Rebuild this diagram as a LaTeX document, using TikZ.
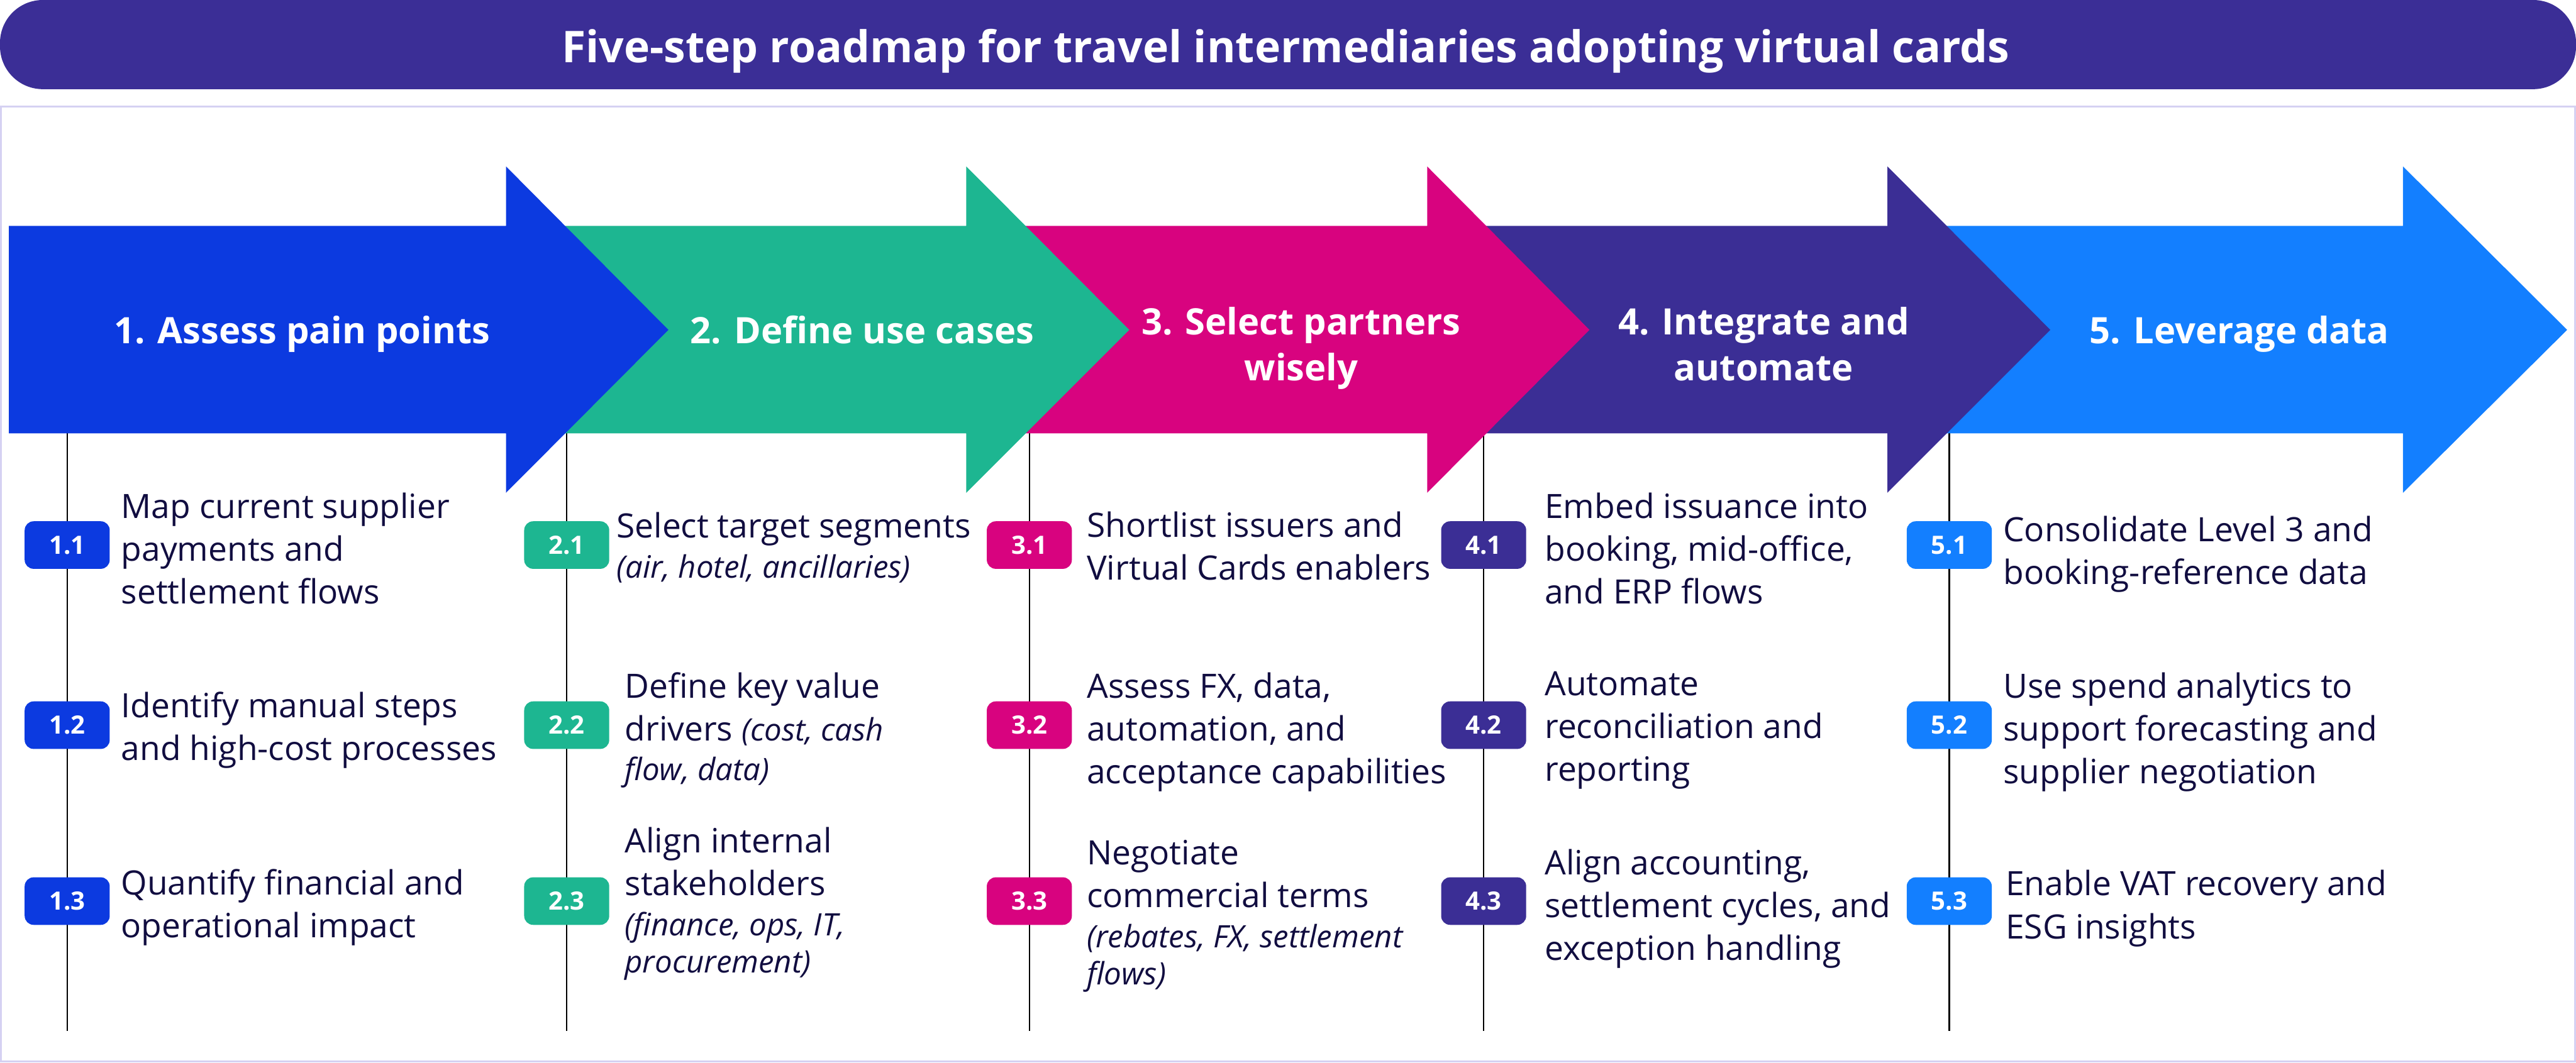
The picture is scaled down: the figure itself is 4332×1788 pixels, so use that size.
\documentclass[tikz,border=0pt]{standalone}
\usepackage{fontspec}
\setmainfont{Open Sans}
\definecolor{titlec}{HTML}{3B2E96}
\definecolor{cA}{HTML}{0C3AE0}
\definecolor{cB}{HTML}{1DB691}
\definecolor{cC}{HTML}{D8037F}
\definecolor{cD}{HTML}{3B2E95}
\definecolor{cE}{HTML}{137FFF}
\definecolor{framec}{HTML}{D5D1F2}
\definecolor{txt}{HTML}{110D40}
\newcommand\itsm{\fontsize{13}{15.75}\selectfont\itshape}
\newcommand\Ln[1]{\baselineskip=18pt\hbox{#1}}
\newcommand\Ia[1]{\baselineskip=16.75pt\hbox{\itsm #1}}
\newcommand\Ib[1]{\baselineskip=15.75pt\hbox{\itsm #1}}
\newcommand\blk[1]{\vtop{\lineskiplimit=-50pt\lineskip=0pt #1}}
\newcommand\twol[2]{\vtop{\baselineskip=19.25pt\lineskiplimit=-50pt\lineskip=0pt\halign{\hfil##\hfil\cr#1\cr#2\cr}}}
\tikzset{
  item/.style={anchor=base west, inner sep=0pt, text=txt, font=\fontsize{14.1}{18}\selectfont},
  badge/.style={rounded corners=3.75pt, minimum width=35.75pt, minimum height=20pt, inner sep=0pt, text=white, font=\fontsize{10.6}{12}\selectfont\bfseries},
  alabel/.style={anchor=base, inner sep=0pt, text=white, font=\fontsize{15.3}{19.25}\selectfont\bfseries},
  vline/.style={line width=0.6pt, draw=black},
}
\begin{document}
\begin{tikzpicture}[x=0.25pt,y=-0.25pt]
\useasboundingbox (0,0) rectangle (4332,1788);
% title bar
\fill[titlec, rounded corners=18pt] (0,0) rectangle (4332,150);
\node[anchor=base, inner sep=0pt, text=white, font=\fontsize{18.4}{22}\selectfont\bfseries] (title) at (2162,105) {Five-step roadmap for travel intermediaries adopting virtual cards};
% frame
\draw[framec, line width=0.8pt] (1.5,179.5) rectangle (4330.5,1785.5);
% vertical lines
\foreach \i/\x in {1/113,2/953,3/1731,4/2495,5/3278}{
  \coordinate (t\i) at (\x,724);
  \coordinate (e\i) at (\x,1734);
  \draw[vline] (t\i) -- (e\i);
}
% arrows (drawn back to front)
\fill[cE] (3174,380) -- (4041,380) -- (4041,280) -- (4317,555) -- (4041,829) -- (4041,729) -- (3174,729) -- cycle;
\fill[cD] (2400,380) -- (3174,380) -- (3174,280) -- (3448,555) -- (3174,829) -- (3174,729) -- (2400,729) -- cycle;
\fill[cC] (1625,380) -- (2400,380) -- (2400,280) -- (2673,555) -- (2400,829) -- (2400,729) -- (1625,729) -- cycle;
\fill[cB] (851,380) -- (1625,380) -- (1625,280) -- (1899,555) -- (1625,829) -- (1625,729) -- (851,729) -- cycle;
\fill[cA] (15,380) -- (851,380) -- (851,280) -- (1124,555) -- (851,829) -- (851,729) -- (15,729) -- cycle;
% arrow labels
\node[alabel] (a1) at (508,578) {1. Assess pain points};
\node[alabel] (a2) at (1450,578) {2. Define use cases};
\node[alabel] (a3) at (2188,563) {\twol{3. Select partners}{wisely}};
\node[alabel] (a4) at (2966,563) {\twol{4. Integrate and}{automate}};
\node[alabel] (a5) at (3766,578) {5. Leverage data};
% badges
\foreach \i/\x/\c in {1/113/cA,2/953/cB,3/1731/cC,4/2495/cD,5/3278/cE}{
  \node[badge, fill=\c] (b\i1) at (\x,917) {\i.1};
  \node[badge, fill=\c] (b\i2) at (\x,1220) {\i.2};
  \node[badge, fill=\c] (b\i3) at (\x,1516) {\i.3};
}
% step 1
\node[item] (s11) at (203,872) {\blk{\Ln{Map current supplier}\Ln{payments and}\Ln{settlement flows}}};
\node[item] (s12) at (203,1207) {\blk{\Ln{Identify manual steps}\Ln{and high-cost processes}}};
\node[item] (s13) at (203,1505) {\blk{\Ln{Quantify financial and}\Ln{operational impact}}};
% step 2
\node[item] (s21) at (1036,905) {\blk{\Ln{Select target segments}\Ia{(air, hotel, ancillaries)}}};
\node[item] (s22) at (1050,1174) {\blk{\Ln{Define key value}\Ln{drivers {\itsm(cost, cash}}\Ia{flow, data)}}};
\node[item] (s23) at (1050,1435) {\blk{\Ln{Align internal}\Ln{stakeholders}\Ia{(finance, ops, IT,}\Ib{procurement)}}};
% step 3
\node[item] (s31) at (1827,904) {\blk{\Ln{Shortlist issuers and}\Ln{Virtual Cards enablers}}};
\node[item] (s32) at (1827,1174) {\blk{\Ln{Assess FX, data,}\Ln{automation, and}\Ln{acceptance capabilities}}};
\node[item] (s33) at (1827,1455) {\blk{\Ln{Negotiate}\Ln{commercial terms}\Ia{(rebates, FX, settlement}\Ib{flows)}}};
% step 4
\node[item] (s41) at (2597,872) {\blk{\Ln{Embed issuance into}\Ln{booking, mid-office,}\Ln{and ERP flows}}};
\node[item] (s42) at (2597,1170) {\blk{\Ln{Automate}\Ln{reconciliation and}\Ln{reporting}}};
\node[item] (s43) at (2597,1472) {\blk{\Ln{Align accounting,}\Ln{settlement cycles, and}\Ln{exception handling}}};
% step 5
\node[item] (s51) at (3368,911) {\blk{\Ln{Consolidate Level 3 and}\Ln{booking-reference data}}};
\node[item] (s52) at (3368,1174) {\blk{\Ln{Use spend analytics to}\Ln{support forecasting and}\Ln{supplier negotiation}}};
\node[item] (s53) at (3372,1507) {\blk{\Ln{Enable VAT recovery and}\Ln{ESG insights}}};
\end{tikzpicture}
\end{document}
